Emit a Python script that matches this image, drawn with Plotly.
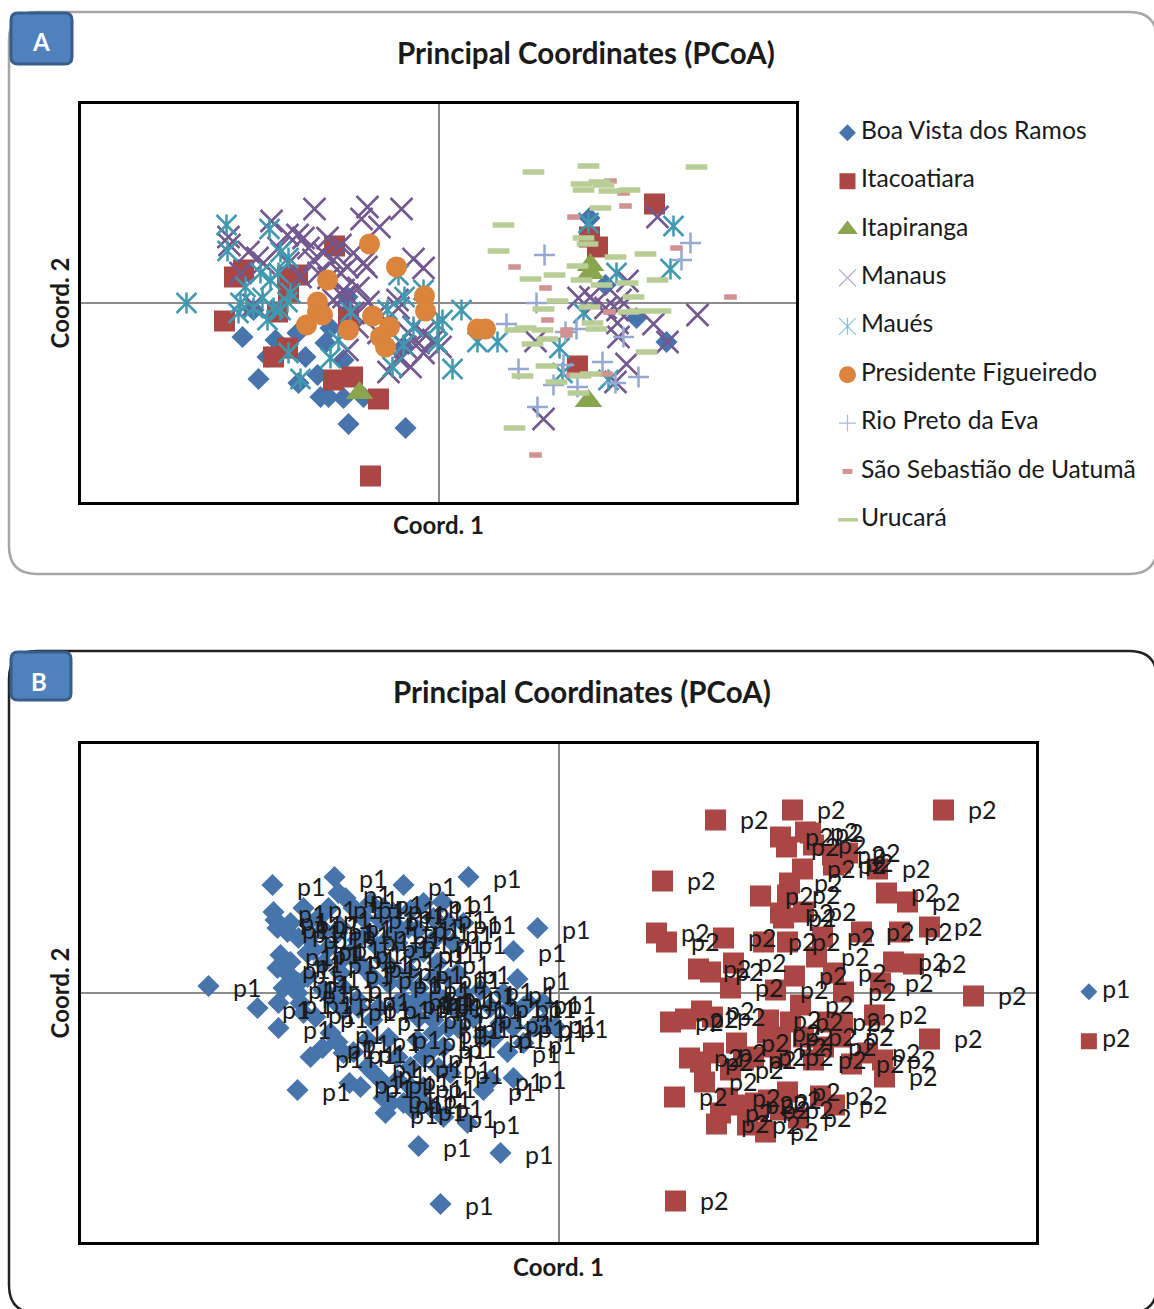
import plotly.graph_objects as go

W, H = 1154, 1309

TITLE = "Principal Coordinates (PCoA)"
X_LABEL = "Coord. 1"
Y_LABEL = "Coord. 2"

boa_x = [-196,-180,-90,-33,-140,-118,-110,-95,-75,-121,-171,-163,-141,-133,-113,-108,-95,-185,-91,-35,151,167,198,228]
boa_y = [-34,-76,-121,-125,-80,-94,-94,-95,-94,-72,-54,-37,-30,-54,-40,-25,-57,-7,6,-44,85,18,-15,-39]
ita_x = [-214,-204,-195,-104,-151,-141,-150,-161,-151,-165,-105,-86,-60,-68,-90,216,151,159,139]
ita_y = [-18,26,33,57,26,28,11,-9,-45,-54,-77,-74,-96,-173,-14,99,66,56,-63]
tap_x = [-79,152,152,150]
tap_y = [-90,38,30,-98]
man_x = [-124,-71,-77,-37,-59,-167,-210,-209,-190,-181,-151,-141,-135,-111,-98,-125,-105,-91,-72,-25,-15,-198,-138,-98,-95,-95,-91,-70,-40,-41,-185,-50,-28,-15,-91,-5,-25,-33,-81,-85,-105,219,140,152,189,157,179,182,179,215,259,229,97,180,188,177,105,2,167,-130,-115,-85,-120,-110,-80,-75,-160,-175,-150,-60,-30,-15,-60,-40,-20]
man_y = [94,96,84,94,76,82,66,58,51,45,68,68,65,65,58,43,43,36,36,44,35,30,26,30,13,6,8,1,-5,3,-2,-69,-64,-50,-47,-37,-24,-44,-24,-10,3,86,5,6,22,0,-7,3,-20,-21,-12,-39,-38,-34,-61,-79,-116,-44,-5,55,50,50,30,25,15,40,55,40,40,-10,-30,-30,-30,-55,-40]
mau_x = [-252,-212,-169,-211,-158,-150,-178,-168,-193,-148,-198,-176,-200,-171,-158,-151,-150,-108,-138,-100,-88,-40,-34,-51,-25,-35,-46,-1,-1,-15,23,4,39,59,14,150,235,178,232,145,121,124,170,-160,-185,-165]
mau_y = [0,78,74,52,51,45,30,23,16,10,0,5,-10,-17,-7,1,-50,-55,-76,-37,-9,28,6,-7,-24,-42,-64,-22,-40,13,-7,-17,-39,-39,-66,80,77,30,34,-10,-45,-70,-77,30,-5,-5]
pre_x = [-69,-42,-111,-14,-13,-121,-121,-116,-132,-90,-66,-49,-58,-53,39,47]
pre_y = [59,36,23,7,-8,1,-9,-12,-22,-27,-13,-24,-34,-44,-26,-26]
rio_x = [106,252,243,98,68,127,138,185,164,200,80,125,115,139,177,99]
rio_y = [48,60,43,0,-21,-29,-26,-34,-59,-74,-66,-62,-82,-84,-80,-104]
sao_x = [172,185,187,135,76,238,107,292,171,109,128,128,168,97,134]
sao_y = [122,110,97,86,36,55,15,6,-9,-17,-27,-32,-71,-152,-72]
uru_x = [150,258,95,143,161,165,145,171,191,162,65,145,149,60,207,177,139,116,92,143,163,189,219,195,119,105,151,190,201,222,154,158,77,87,104,109,94,208,108,84,142,152,118,140,76]
uru_y = [137,136,131,119,121,118,113,112,113,95,78,65,59,52,49,46,37,28,24,23,18,20,23,6,2,-6,-4,-9,-8,-8,-20,-26,-27,-25,-27,-36,-41,-49,-63,-73,-73,-71,-79,-90,-125]

p1_x = [-350,-286,-224,-155,-90,-21,-45,-41,-116,-301,-280,-261,-140,-58,-118,-173,-91,-68,-75,-45,-51,-3,-209,-198,-248,-236,-221,-213,-220,-285,-283,-281,-268,-271,-278,-268,-281,-271,-275,-261,-280,-258,-243,-228,-188,-178,-141,-128,-135,-95,-245,-235,-218,-195,-181,-165,-148,-121,-101,-161,-148,-135,-115,-95,-78,-68,-55,-48,-35,-58,-45,-75,-25,-15,-186,-191,-205,-191,-161,-141,-135,-148,-175,-161,-148,-135,-115,-168,-155,-145,-128,-115,-108,-101,-125,-201,-225,-215,-235,-251,-201,-221,-165,-148,-135,-251,-235,-218,-118,-161,-175,-208,-251,-155,-145,-138,-128,-121,-255,-240,-230,-205,-195,-175,-160,-150,-125,-110,-105,-145,-190,-170,-260,-250,-230,-215,-200,-185,-170,-155,-140,-125,-110,-215,-200,-180,-140,-125,-105,-90,-85,-110,-170,-215,-185,-125,-120,-140,-175,-260,-255,-65,-35,-30,-15]
p1_y = [7,108,116,108,116,65,42,14,91,-15,-35,-97,-153,-160,-211,-120,-130,-87,-97,-85,-59,-34,-90,-94,-64,-55,-49,95,100,81,73,65,70,61,38,31,25,20,5,0,-10,-10,-24,-40,90,73,63,50,41,70,43,30,20,26,46,23,20,30,20,-10,-14,-7,-7,0,3,-14,0,-14,-14,-30,-34,-44,-34,-30,-27,-47,-59,-74,-64,-47,-64,-74,-90,-87,-94,-94,-54,-110,-110,-117,-114,-124,-80,-34,-27,-7,-7,-17,3,16,53,60,80,83,90,70,63,66,60,50,33,40,40,-7,-10,-7,-13,-3,85,75,85,85,75,85,65,65,75,70,50,40,60,55,55,55,45,35,30,15,10,10,5,15,15,5,-15,-15,-25,-40,-15,-15,-25,-35,-45,-60,-80,-55,-75,-105,-105,10,-20,-45,-50,-10,-10]
p2_x = [234,157,385,104,98,108,165,202,222,228,247,255,274,289,244,275,319,231,229,328,349,371,222,225,245,303,341,205,229,264,258,175,140,152,335,355,172,217,236,275,322,285,415,242,143,127,112,154,210,316,371,232,269,284,209,222,245,265,282,178,131,155,142,172,195,255,293,309,324,326,146,116,229,262,276,169,162,158,182,197,210,189,207,240,117,252,282,222,185,215,199,222]
p2_y = [183,173,183,112,60,51,55,97,156,146,161,148,138,140,124,128,124,110,98,100,91,66,80,75,81,61,61,51,51,56,36,30,24,21,31,29,5,3,17,20,10,1,-3,-12,-18,-26,-29,-24,-27,-22,-46,-29,-29,-30,-40,-44,-44,-54,-44,-50,-65,-60,-69,-77,-64,-67,-71,-60,-67,-84,-89,-104,-99,-103,-112,-105,-120,-131,-112,-110,-107,-132,-139,-125,-208,160,130,-64,-67,-54,-117,-117]

names_a = ["Boa Vista dos Ramos","Itacoatiara","Itapiranga","Manaus","Maués","Presidente Figueiredo","Rio Preto da Eva","São Sebastião de Uatumã","Urucará"]
names_b = ["p1","p2"]

BLUE="#4674AB"; RED="#AA4643"; GREEN="#89A54E"; PURPLE="#71588F"; TEAL="#4198AF"
ORANGE="#DB843D"; LBLUE="#93A9CF"; PINK="#D19392"; OLIVE="#B9CD96"
FONT="Lato"; INK="#1a1a1a"

def px(x): return x/W
def py(y): return 1-y/H

fig = go.Figure()

def pts(x,y,name,sym,size,color,lw=0,xa="x",ya="y"):
    line = dict(width=lw,color=color) if lw else dict(width=0)
    fig.add_trace(go.Scatter(x=x,y=y,mode="markers",name=name,xaxis=xa,yaxis=ya,showlegend=False,hoverinfo="name",
        marker=dict(symbol=sym,size=size,color=color,line=line)))

pts(boa_x,boa_y,names_a[0],"diamond",17,BLUE)
pts(ita_x,ita_y,names_a[1],"square",21,RED)
pts(tap_x,tap_y,names_a[2],"triangle-up",24,GREEN)
pts(man_x,man_y,names_a[3],"x-thin-open",22,PURPLE,2.5)
pts(mau_x,mau_y,names_a[4],"x-thin-open",20,TEAL,2.5)
pts(mau_x,mau_y,names_a[4],"line-ns-open",15,TEAL,2.5)
pts(pre_x,pre_y,names_a[5],"circle",21,ORANGE)
pts(rio_x,rio_y,names_a[6],"cross-thin-open",15,LBLUE,2.5)
pts(sao_x,sao_y,names_a[7],"line-ew-open",9,PINK,5.5)
pts(uru_x,uru_y,names_a[8],"line-ew-open",15.5,OLIVE,5.5)

pts(p1_x,p1_y,"p1","diamond",17,BLUE,xa="x2",ya="y2")
pts(p2_x,p2_y,"p2","square",21,RED,xa="x2",ya="y2")

LEG_A = dict(symbol=["diamond","square","triangle-up","x-thin-open","x-thin-open","circle","cross-thin-open","line-ew-open","line-ew-open"],
             size=[13,16,18,17,17,17,12,7,15],
             color=[BLUE,RED,GREEN,"#B3A2C7","#7FC4D6",ORANGE,"#A9BADB",PINK,OLIVE],
             lw=[0,0,0,1.2,1.2,0,1.2,5,3.5])
for i,n in enumerate(names_a):
    lw=LEG_A["lw"][i]
    fig.add_trace(go.Scatter(x=[0.03],y=[i],mode="markers",xaxis="x3",yaxis="y3",showlegend=False,name=n,hoverinfo="skip",
        marker=dict(symbol=LEG_A["symbol"][i],size=LEG_A["size"][i],color=LEG_A["color"][i],
                    line=dict(width=lw,color=LEG_A["color"][i]))))
    if n=="Maués":
        fig.add_trace(go.Scatter(x=[0.03],y=[i],mode="markers",xaxis="x3",yaxis="y3",showlegend=False,hoverinfo="skip",
            marker=dict(symbol="line-ns-open",size=12,color="#7FC4D6",line=dict(width=1.2,color="#7FC4D6"))))
fig.add_trace(go.Scatter(x=[0.0728]*9,y=list(range(9)),mode="text",xaxis="x3",yaxis="y3",showlegend=False,hoverinfo="skip",
    text=names_a,textposition="middle right",textfont=dict(family=FONT,size=24.7,color=INK)))

for i,(n,sym,s,c) in enumerate(zip(names_b,["diamond","square"],[13,16],[BLUE,RED])):
    fig.add_trace(go.Scatter(x=[0.12],y=[i],mode="markers",xaxis="x4",yaxis="y4",showlegend=False,name=n,hoverinfo="skip",
        marker=dict(symbol=sym,size=s,color=c)))
fig.add_trace(go.Scatter(x=[0.3,0.3],y=[0,1],mode="text",xaxis="x4",yaxis="y4",showlegend=False,hoverinfo="skip",
    text=names_b,textposition="middle right",textfont=dict(family=FONT,size=24.7,color=INK)))

def main_axis(dom,rng,title,standoff,anchor):
    return dict(domain=dom,range=rng,showticklabels=False,ticks="",showgrid=False,zeroline=True,
        zerolinecolor="#8c8c8c",zerolinewidth=1.5,showline=True,mirror=True,linecolor="#000",linewidth=2.5,
        anchor=anchor,title=dict(text="<b>%s</b>"%title,standoff=standoff,font=dict(family=FONT,size=24,color=INK)))
def hidden(dom,rng,anchor):
    return dict(domain=dom,range=rng,visible=False,anchor=anchor)

def round_path(x0,y0,x1,y1,r):
    X0,X1,Y0,Y1=px(x0),px(x1),py(y0),py(y1)
    rx,ry=r/W,r/H
    return (f"M{X0+rx},{Y0} L{X1-rx},{Y0} Q{X1},{Y0} {X1},{Y0-ry} L{X1},{Y1+ry} Q{X1},{Y1} {X1-rx},{Y1} "
            f"L{X0+rx},{Y1} Q{X0},{Y1} {X0},{Y1+ry} L{X0},{Y0-ry} Q{X0},{Y0} {X0+rx},{Y0} Z")

shapes=[
  dict(type="path",xref="paper",yref="paper",layer="below",path=round_path(9,12,1157,574,28),line=dict(color="#a6a6a6",width=2.5)),
  dict(type="path",xref="paper",yref="paper",layer="below",path=round_path(9,651,1157,1313,28),line=dict(color="#222",width=2.5)),
  dict(type="path",xref="paper",yref="paper",path=round_path(11,13,72,64,7),fillcolor="#4F81BD",line=dict(color="#385D8A",width=3)),
  dict(type="path",xref="paper",yref="paper",path=round_path(11,652,71,700,7),fillcolor="#4F81BD",line=dict(color="#385D8A",width=3)),
]
def note(x,y,text,size,color):
    return dict(xref="paper",yref="paper",x=px(x),y=py(y),text=text,showarrow=False,xanchor="center",yanchor="middle",
        font=dict(family=FONT,size=size,color=color))
annotations=[
  note(586,52,"<b>%s</b>"%TITLE,29.5,INK),
  note(582,691,"<b>%s</b>"%TITLE,29.5,INK),
  note(41,41,"<b>A</b>",24,"#fff"),
  note(39,681,"<b>B</b>",24,"#fff"),
]
for xs,ys,n,dy in ((p1_x,p1_y,"p1",-1),(p2_x,p2_y,"p2",1)):
    for a,b in zip(xs,ys):
        annotations.append(dict(xref="x2",yref="y2",x=a,y=b,text=n,showarrow=False,xanchor="left",yanchor="middle",
            xshift=22.5,yshift=dy,font=dict(family=FONT,size=25,color=INK)))

fig.update_layout(width=W,height=H,margin=dict(l=0,r=0,t=0,b=0,pad=0),paper_bgcolor="#fff",plot_bgcolor="#fff",
    showlegend=False,shapes=shapes,annotations=annotations,
    xaxis=main_axis([px(81.3),px(795.7)],[-357.2,357.2],X_LABEL,14,"y"),
    yaxis=main_axis([py(501.7),py(104.3)],[-198.7,198.7],Y_LABEL,3,"x"),
    xaxis2=main_axis([px(81.3),px(1035.7)],[-477.2,477.2],X_LABEL,16,"y2"),
    yaxis2=main_axis([py(1241.7),py(744.3)],[-248.7,248.7],Y_LABEL,3,"x2"),
    xaxis3=hidden([px(838),1],[0,1],"y3"),
    yaxis3=hidden([py(544),py(108.6)],[8.5,-0.5],"x3"),
    xaxis4=hidden([px(1080),1],[0,1],"y4"),
    yaxis4=hidden([py(1066),py(967)],[1.5,-0.5],"x4"),
)
fig.write_html("out.html",post_script="document.body.style.margin='0';",config=dict(displayModeBar=False))
